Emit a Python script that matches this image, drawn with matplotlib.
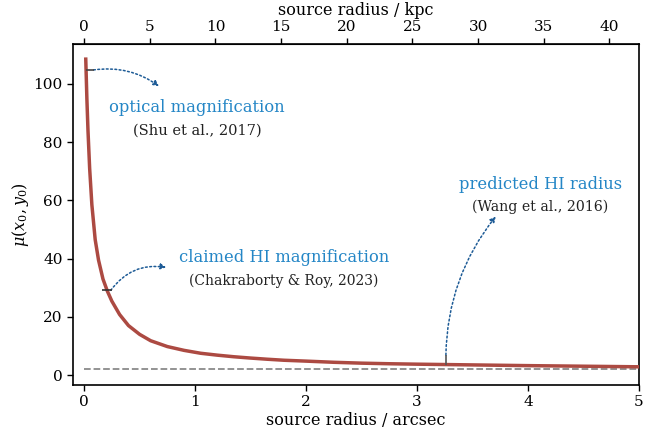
import matplotlib
matplotlib.use("Agg")
import matplotlib.pyplot as plt

plt.rcParams['font.family'] = ['DejaVu Serif']
plt.rcParams['mathtext.fontset'] = 'dejavuserif'

# magnification curve
radius_arcsec = [0.015, 0.025, 0.035, 0.05, 0.07, 0.10, 0.13, 0.17, 0.21, 0.25,
                 0.32, 0.40, 0.50, 0.60, 0.75, 0.90, 1.05, 1.20, 1.35, 1.50,
                 1.65, 1.80, 2.00, 2.25, 2.50, 2.75, 3.00, 3.26, 3.50, 4.00,
                 4.50, 5.00]
magnification = [108.5, 95.0, 84.0, 71.0, 58.5, 46.5, 39.5, 33.0, 28.8, 25.4,
                 20.8, 17.0, 14.0, 11.8, 9.8, 8.5, 7.5, 6.85, 6.3, 5.85,
                 5.45, 5.1, 4.8, 4.4, 4.1, 3.9, 3.75, 3.62, 3.5, 3.25,
                 3.05, 2.85]

asymptote_x = [0.0, 5.0]
asymptote_y = [2.0, 2.0]

# highlighted points
optical_pt = (0.05, 104.8)
claimed_pt = (0.21, 29.1)
predicted_pt = (3.26, 5.2)

kpc_per_arcsec = 8.45
top_ticks = [0, 5, 10, 15, 20, 25, 30, 35, 40]

fig = plt.figure(figsize=(6.55, 4.33), dpi=100)
ax = fig.add_axes([73/655, 48/433, 566/655, 341/433])

ax.plot(asymptote_x, asymptote_y, ls='--', color='#8a8a8a', lw=1.3, zorder=2)
ax.plot(radius_arcsec, magnification, color='#ac4a42', lw=2.5, zorder=3)

ax.plot(*optical_pt, marker='_', ms=5.5, mew=1.2, color='#444444', zorder=4)
ax.plot(*claimed_pt, marker='_', ms=6.5, mew=1.2, color='#333333', zorder=4)
ax.plot(*predicted_pt, marker='|', ms=6.5, mew=1.2, color='#555555', zorder=4)

ax.set_xlim(-0.1, 5.0)
ax.set_ylim(-3.4, 113.7)
ax.set_xticks([0, 1, 2, 3, 4, 5])
ax.set_yticks([0, 20, 40, 60, 80, 100])
ax.tick_params(labelsize=11, length=4, width=1, direction='out')
for s in ax.spines.values():
    s.set_linewidth(1.2)

ax.set_xlabel('source radius / arcsec', fontsize=11.5, labelpad=2)
ax.set_ylabel(r'$\mu(x_0, y_0)$', fontsize=11.5, labelpad=2)

top = ax.secondary_xaxis('top', functions=(lambda x: x * kpc_per_arcsec,
                                           lambda k: k / kpc_per_arcsec))
top.set_xticks(top_ticks)
top.tick_params(labelsize=11, length=4, width=1)
top.set_xlabel('source radius / kpc', fontsize=11.5, labelpad=3)

arrow_kw = dict(arrowstyle='-|>', color='#1d5b96', lw=1.1, ls=(0, (1.2, 1.6)),
                mutation_scale=8, shrinkA=0, shrinkB=0)

# optical magnification
ax.annotate('', xy=(0.675, 99.2), xytext=(0.085, 104.8),
            arrowprops=dict(connectionstyle='arc3,rad=-0.2', **arrow_kw))
ax.text(1.02, 92.0, 'optical magnification', color='#2486c6', fontsize=11.8,
        ha='center', va='center')
ax.text(1.02, 83.8, '(Shu et al., 2017)', color='#222222', fontsize=10.5,
        ha='center', va='center')

# claimed HI magnification
ax.annotate('', xy=(0.74, 37.0), xytext=(0.24, 29.1),
            arrowprops=dict(connectionstyle='arc3,rad=-0.3', **arrow_kw))
ax.text(1.8, 40.3, 'claimed HI magnification', color='#2486c6', fontsize=11.8,
        ha='center', va='center')
ax.text(1.8, 32.3, '(Chakraborty & Roy, 2023)', color='#222222', fontsize=10,
        ha='center', va='center')

# predicted HI radius
ax.annotate('', xy=(3.71, 54.5), xytext=(3.26, 6.9),
            arrowprops=dict(connectionstyle='arc3,rad=-0.17', **arrow_kw))
ax.text(4.11, 65.3, 'predicted HI radius', color='#2486c6', fontsize=11.8,
        ha='center', va='center')
ax.text(4.11, 57.9, '(Wang et al., 2016)', color='#222222', fontsize=10.2,
        ha='center', va='center')

fig.savefig('out.png', dpi=100)
